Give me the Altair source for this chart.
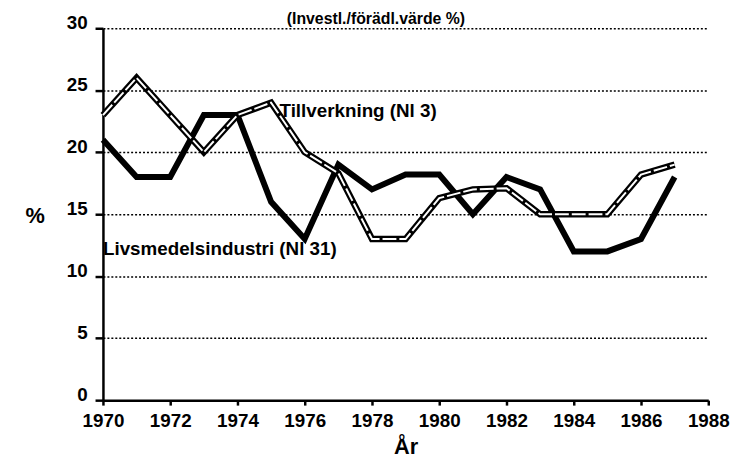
import altair as alt
import pandas as pd

years = list(range(1970, 1988))
livsmedel = [21, 18, 18, 23, 23, 16, 13, 19, 17, 18.2, 18.2, 15, 18, 17, 12, 12, 13, 18]
tillverkning = [23, 26, 23, 20, 23, 24, 20, 18.3, 13, 13, 16.3, 17, 17.1, 15, 15, 15, 18.2, 19]
x_ticks = list(range(1970, 1989, 2))
y_ticks = [0, 5, 10, 15, 20, 25, 30]
title_text = "(Investl./förädl.värde %)"
label_names = ["Tillverkning (Nl 3)", "Livsmedelsindustri (Nl 31)"]
label_years = [1975.25, 1970.0]
label_values = [23.3, 12.2]

FONT = "Liberation Sans"

rows = []
for yr, v in zip(years, livsmedel):
    rows.append({"year": yr, "series": "livs", "value": v})
for yr, v in zip(years, tillverkning):
    rows.append({"year": yr, "series": "tillv", "value": v})
df = pd.DataFrame(rows)
labels_df = pd.DataFrame({"label": label_names, "year": label_years, "value": label_values})

x_enc = alt.X(
    "year:Q",
    scale=alt.Scale(domain=[1970, 1988], nice=False, zero=False),
    axis=alt.Axis(
        values=x_ticks, format="d", title="År", grid=False,
        domainColor="black", domainWidth=2.5, tickColor="black", tickWidth=2.5, tickSize=5,
        labelFont=FONT, labelFontSize=19, labelFontWeight="bold", labelColor="black",
        labelPadding=7, labelFlush=False,
        titleFont=FONT, titleFontSize=22, titleFontWeight="bold", titleColor="black",
        titleY=54, titleBaseline="alphabetic",
    ),
)
y_enc = alt.Y(
    "value:Q",
    scale=alt.Scale(domain=[0, 30], nice=False),
    axis=alt.Axis(
        values=y_ticks, title="%", grid=True,
        gridColor="black", gridDash=[2, 2], gridWidth=1.5, gridOpacity=1,
        domainColor="black", domainWidth=2.5, tickColor="black", tickWidth=2.5, tickSize=8,
        labelFont=FONT, labelFontSize=19, labelFontWeight="bold", labelColor="black",
        labelPadding=8, labelBaseline="alphabetic",
        titleFont=FONT, titleFontSize=22, titleFontWeight="bold", titleColor="black",
        titleAngle=0, titleX=-69, titleY=189, titleAlign="center", titleBaseline="middle",
    ),
)

base = alt.Chart(df)
livs_line = base.transform_filter(alt.datum.series == "livs").mark_line(
    color="black", strokeWidth=6, strokeJoin="miter", strokeCap="butt"
).encode(x=x_enc, y=y_enc)
tillv_outer = base.transform_filter(alt.datum.series == "tillv").mark_line(
    color="black", strokeWidth=6.5, strokeJoin="miter", strokeCap="butt"
).encode(x=x_enc, y=y_enc)
tillv_inner = base.transform_filter(alt.datum.series == "tillv").mark_line(
    color="white", strokeWidth=2, strokeDash=[14, 3], strokeJoin="miter", strokeCap="butt"
).encode(x=x_enc, y=y_enc)

labels = alt.Chart(labels_df).mark_text(
    align="left", baseline="middle", font=FONT, fontSize=19, fontWeight="bold", color="black"
).encode(x=alt.X("year:Q"), y=alt.Y("value:Q"), text="label:N")

title = alt.Chart(pd.DataFrame({"t": [title_text]})).mark_text(
    align="center", baseline="top", font=FONT, fontSize=16, fontWeight="bold", color="black"
).encode(x=alt.value(276), y=alt.value(-17), text="t:N")

chart = alt.layer(livs_line, tillv_outer, tillv_inner, labels, title).properties(
    width=612,
    height=376,
    autosize=alt.AutoSizeParams(type="none"),
    padding={"left": 96, "top": 18, "right": 25, "bottom": 58},
    background="white",
).configure_view(stroke=None)

chart.save("out.html", embed_options={"renderer": "svg", "actions": False})
